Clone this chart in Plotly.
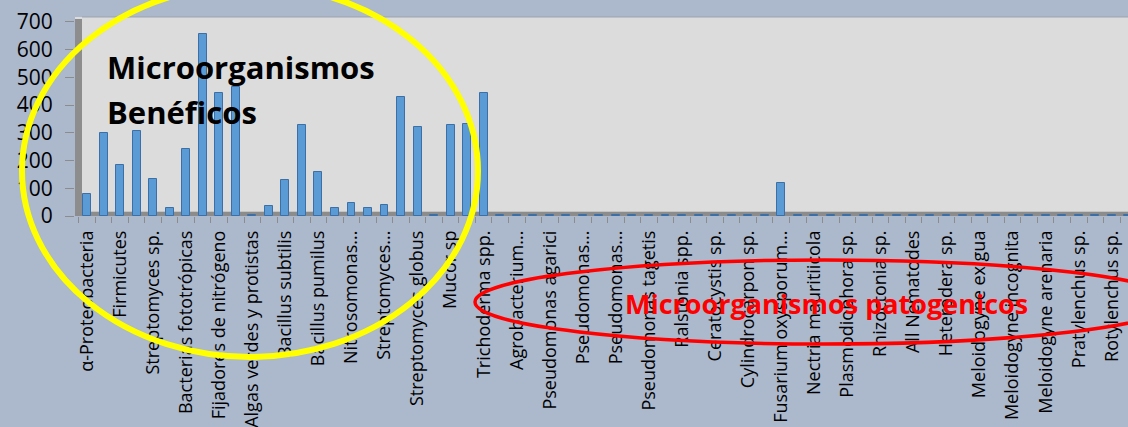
import plotly.graph_objects as go

# Category labels (every second category carries a label)
labels = [
    "α-Proteobacteria", "Firmicutes", "Streptomyces sp.", "Bacterias fototrópicas",
    "Fijadores de nitrógeno", "Algas verdes y protistas", "Bacillus subtilis",
    "Bacillus pumilus", "Nitrosomonas...", "Streptomyces...", "Streptomyces globus",
    "Mucor sp", "Trichoderma spp.", "Agrobacterium...", "Pseudomonas agarici",
    "Pseudomonas...", "Pseudomonas...", "Pseudomonas tagetis", "Ralstonia spp.",
    "Ceratocystis sp.", "Cylindrocarpon sp.", "Fusarium oxysporum...",
    "Nectria mauritiicola", "Plasmodiophora sp.", "Rhizoctonia sp.", "All Nematodes",
    "Heterodera sp.", "Meloidogyne exigua", "Meloidogyne incognita",
    "Meloidogyne arenaria", "Pratylenchus sp.", "Rotylenchus sp.",
]
label_positions = [0, 2, 4, 6, 8, 10, 12, 14, 16, 18, 20, 22, 24, 26, 28, 30,
                   32, 34, 36, 38, 40, 42, 44, 46, 48, 50, 52, 54, 56, 58, 60, 62]

# One value per category (64 categories)
values = [
    80, 300, 184, 306, 134, 28, 240, 657, 445, 465,
    4, 37, 130, 328, 160, 28, 48, 30, 40, 430,
    320, 4, 328, 332, 443, 3, 3, 3, 3, 3,
    3, 3, 3, 3, 3, 3, 3, 3, 3, 3,
    3, 3, 120, 3, 3, 3, 3, 3, 3, 3,
    3, 3, 3, 3, 3, 3, 3, 3, 3, 3,
    3, 3, 3, 3,
]
positions = list(range(len(values)))

y_ticks = [0, 100, 200, 300, 400, 500, 600, 700]

W, H = 1128, 427
ML, MR, MT, MB = 75, 0, 17, 211
PW = W - ML - MR
PH = H - MT - MB


def px_x(p):
    return (p - ML) / PW


def px_y(p):
    return (H - MB - p) / PH


fig = go.Figure()
fig.add_trace(go.Bar(
    x=positions, y=values, width=0.48,
    marker=dict(color="#5b9bd5", line=dict(color="#3c6fa6", width=1)),
    showlegend=False,
))

shapes = [
    # back wall top edge
    dict(type="line", xref="paper", yref="paper", x0=px_x(82), x1=1, y0=1, y1=1,
         line=dict(color="#9da3ab", width=1), layer="below"),
    # left side wall
    dict(type="rect", xref="paper", yref="paper", x0=0, x1=px_x(82), y0=0, y1=px_y(19),
         fillcolor="#8d8d8d", line=dict(width=0), layer="below"),
    # floor strip
    dict(type="rect", xref="paper", yref="paper", x0=0, x1=1, y0=0, y1=px_y(212),
         fillcolor="#8c8c8c", line=dict(width=0), layer="below"),
    dict(type="line", xref="paper", yref="paper", x0=px_x(82), x1=1,
         y0=px_y(211.5), y1=px_y(211.5), line=dict(color="#c4c4c4", width=1), layer="below"),
    # highlight circle around the beneficial group
    dict(type="circle", xref="paper", yref="paper",
         x0=px_x(22), x1=px_x(478), y0=px_y(357), y1=px_y(-15),
         line=dict(color="#ffff00", width=6), layer="above"),
    # highlight ellipse around the pathogenic group
    dict(type="circle", xref="paper", yref="paper",
         x0=px_x(475), x1=px_x(1175), y0=px_y(344), y1=px_y(260),
         line=dict(color="#ff0000", width=3.5), layer="above"),
]

annotations = [
    dict(text="<b>Microorganismos</b>", xref="paper", yref="paper",
         x=px_x(105), y=px_y(44), xanchor="left", yanchor="top", align="left",
         showarrow=False, font=dict(family="Open Sans", size=31, color="#000000")),
    dict(text="<b>Benéficos</b>", xref="paper", yref="paper",
         x=px_x(105), y=px_y(89), xanchor="left", yanchor="top", align="left",
         showarrow=False, font=dict(family="Open Sans", size=31, color="#000000")),
    dict(text="<b>Microorganismos patogenicos</b>", xref="paper", yref="paper",
         x=px_x(826), y=px_y(303), xanchor="center", yanchor="middle",
         showarrow=False, font=dict(family="Open Sans", size=27, color="#ff0000")),
]

fig.update_layout(
    width=W, height=H,
    margin=dict(l=ML, r=MR, t=MT, b=MB, pad=0),
    paper_bgcolor="#acb8cc",
    plot_bgcolor="#dcdcdc",
    bargap=0,
    shapes=shapes,
    annotations=annotations,
    xaxis=dict(
        range=[-0.726, 62.98], tickmode="array", tickvals=label_positions, ticktext=labels,
        tickangle=-90, ticks="", showgrid=False, zeroline=False, showline=False,
        tickfont=dict(family="Open Sans", size=18, color="#000000"),
        ticklabelstandoff=10,
        minor=dict(tickmode="linear", tick0=-0.5, dtick=1, ticks="outside", ticklen=6,
                   tickcolor="#8c8c8c", tickwidth=1, showgrid=False),
    ),
    yaxis=dict(
        range=[0, 718], tickmode="array", tickvals=y_ticks, ticks="outside", ticklen=9,
        tickcolor="#8c8c8c", showgrid=False, zeroline=False, showline=False,
        tickfont=dict(family="Open Sans", size=21, color="#000000"),
        ticklabelstandoff=8,
    ),
)

fig.write_html("out.html")
